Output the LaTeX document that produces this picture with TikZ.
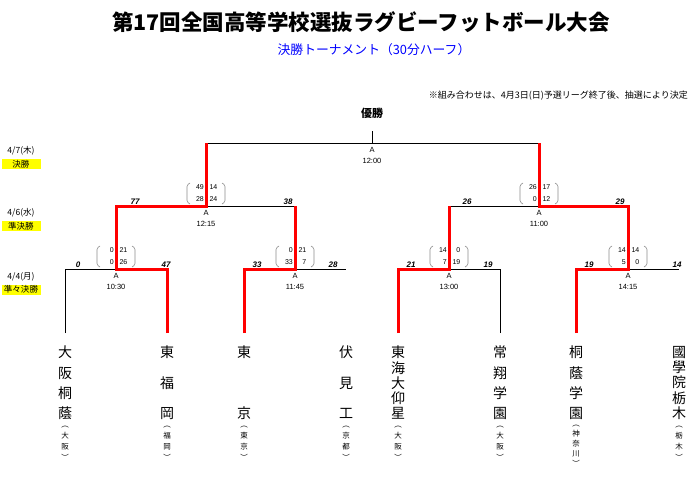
\documentclass[tikz,border=0pt]{standalone}
\usepackage{fontspec}
\setmainfont{Noto Sans CJK JP}
\newfontfamily\numfont{Liberation Sans}
\usetikzlibrary{positioning, calc}
\definecolor{brred}{HTML}{FF0000}
\definecolor{brblue}{HTML}{0000FF}
\definecolor{bryellow}{HTML}{FFFF00}
\definecolor{brgray}{HTML}{8C8C8C}

\begin{document}
\begin{tikzpicture}[x=1pt, y=-1pt,
  every node/.style={inner sep=0pt},
  lose/.style={black, line width=0.9pt},
  win/.style={brred, line width=3pt, line join=miter},
  team/.style={font={\fontsize{14}{#1}\selectfont}, align=center, anchor=north},
  pref/.style={font={\fontsize{7.5}{#1}\selectfont}, align=center, anchor=north},
  pts/.style={font={\numfont\bfseries\itshape\fontsize{8}{8}\selectfont}, anchor=base},
  halfsc/.style={font={\numfont\fontsize{7}{11.5}\selectfont}, align=right, anchor=north east},
  info/.style={font={\numfont\fontsize{7.5}{10.5}\selectfont}, align=center, anchor=north},
  paren/.style={brgray, line width=0.6pt, rounded corners=1.5pt},
  day/.style={font={\fontsize{8.5}{8.5}\selectfont}},
  stagebox/.style={fill=bryellow, minimum width=39pt, minimum height=10pt, font={\fontsize{8.5}{8.5}\selectfont}},
]
\useasboundingbox (0,0) rectangle (700,476);

% titles
\node (title) at (361,22) {\fontsize{21.5}{21.5}\selectfont\bfseries 第17回全国高等学校選抜ラグビーフットボール大会};
\node[text=brblue] (sub) at (374,50) {\fontsize{12.8}{12.8}\selectfont 決勝トーナメント（30分ハーフ）};
\node[anchor=east] (note) at (688,96) {\fontsize{9}{9}\selectfont ※組み合わせは、4月3日(日)予選リーグ終了後、抽選により決定};
\node (champ) at (372,113) {\fontsize{11}{11}\selectfont\bfseries 優勝};

% days
\node[day] (d1) at (21,151) {4/7(木)};
\node[stagebox, below=3pt of d1] (r1) {決勝};
\node[day] (d2) at (21,213) {4/6(水)};
\node[stagebox, below=3pt of d2] (r2) {準決勝};
\node[day] (d3) at (21,277) {4/4(月)};
\node[stagebox, below=3pt of d3] (r3) {準々決勝};

% bracket points
\coordinate (t1) at (65,333);
\coordinate (t2) at (167,333);
\coordinate (t3) at (244,333);
\coordinate (t4) at (346,333);
\coordinate (t5) at (398,333);
\coordinate (t6) at (500,333);
\coordinate (t7) at (576,333);
\coordinate (t8) at (679,333);
\coordinate (q1) at (116,269);
\coordinate (q2) at (295,269);
\coordinate (q3) at (449,269);
\coordinate (q4) at (628,269);
\coordinate (s1) at (206,206);
\coordinate (s2) at (539,206);
\coordinate (f) at (372,143);
\coordinate (top) at (372,131);

% lines
\draw[lose] (t1) |- (q1);
\draw[lose] (q2) -- (q2 -| t4);
\draw[lose] (t6) |- (q3);
\draw[lose] (q4) -- (q4 -| t8);
\draw[lose] (s1) -- (s1 -| q2);
\draw[lose] (s2 -| q3) -- (s2);
\draw[lose] (f -| s1) -- (f -| s2);
\draw[lose] (f) -- (top);
\draw[win] (t2) |- (q1) -- (q1 |- s1) -- (s1) -- (s1 |- f);
\draw[win] (t3) |- (q2) -- (q2 |- s1);
\draw[win] (t5) |- (q3) -- (q3 |- s2);
\draw[win] (t7) |- (q4) -- (q4 |- s2) -- (s2) -- (s2 |- f);

% brackets round the half scores
\foreach \m in {q1,q2,q3,q4,s1,s2}{
  \draw[paren] ($(\m)+(-16,-23)$) -- ++(-3,2) -- ++(0,17) -- ++(3,2);
  \draw[paren] ($(\m)+(16,-23)$) -- ++(3,2) -- ++(0,17) -- ++(-3,2);
}

% half scores
\node[halfsc] (q1a) at ($(q1)+(-2,-21.3)$) {0\\0};
\node[halfsc] (q1b) at ($(q1)+(11.5,-21.3)$) {21\\26};
\node[halfsc] (q2a) at ($(q2)+(-2,-21.3)$) {0\\33};
\node[halfsc] (q2b) at ($(q2)+(11.5,-21.3)$) {21\\7};
\node[halfsc] (q3a) at ($(q3)+(-2,-21.3)$) {14\\7};
\node[halfsc] (q3b) at ($(q3)+(11.5,-21.3)$) {0\\19};
\node[halfsc] (q4a) at ($(q4)+(-2,-21.3)$) {14\\5};
\node[halfsc] (q4b) at ($(q4)+(11.5,-21.3)$) {14\\0};
\node[halfsc] (s1a) at ($(s1)+(-2,-21.3)$) {49\\28};
\node[halfsc] (s1b) at ($(s1)+(11.5,-21.3)$) {14\\24};
\node[halfsc] (s2a) at ($(s2)+(-2,-21.3)$) {26\\0};
\node[halfsc] (s2b) at ($(s2)+(11.5,-21.3)$) {17\\12};

% totals
\node[pts] (q1l) at (78,267.5) {0};
\node[pts] (q1r) at (166,267.5) {47};
\node[pts] (q2l) at (257,267.5) {33};
\node[pts] (q2r) at (333,267.5) {28};
\node[pts] (q3l) at (411,267.5) {21};
\node[pts] (q3r) at (488,267.5) {19};
\node[pts] (q4l) at (589,267.5) {19};
\node[pts] (q4r) at (677,267.5) {14};
\node[pts] (s1l) at (135,204.5) {77};
\node[pts] (s1r) at (288,204.5) {38};
\node[pts] (s2l) at (467,204.5) {26};
\node[pts] (s2r) at (620,204.5) {29};

% ground and kick-off
\node[info] (q1i) at ($(q1)+(0,4.4)$) {A\\10:30};
\node[info] (q2i) at ($(q2)+(0,4.4)$) {A\\11:45};
\node[info] (q3i) at ($(q3)+(0,4.4)$) {A\\13:00};
\node[info] (q4i) at ($(q4)+(0,4.4)$) {A\\14:15};
\node[info] (s1i) at ($(s1)+(0,4.4)$) {A\\12:15};
\node[info] (s2i) at ($(s2)+(0,4.4)$) {A\\11:00};
\node[info] (fi) at ($(f)+(0,4.4)$) {A\\12:00};

% teams
\node[team=20.3] (n1) at (65,346) {大\\阪\\桐\\蔭};
\node[team=30.5] (n2) at (167,346) {東\\福\\岡};
\node[team=61] (n3) at (244,346) {東\\京};
\node[team=30.5] (n4) at (346,346) {伏\\見\\工};
\node[team=15.25] (n5) at (398,346) {東\\海\\大\\仰\\星};
\node[team=20.3] (n6) at (500,346) {常\\翔\\学\\園};
\node[team=20.3] (n7) at (576,346) {桐\\蔭\\学\\園};
\node[team=15.25] (n8) at (679,346) {國\\學\\院\\栃\\木};
\node[pref=11] (p1) at (65,426) {︵\\大\\阪\\︶};
\node[pref=11] (p2) at (167,426) {︵\\福\\岡\\︶};
\node[pref=11] (p3) at (244,426) {︵\\東\\京\\︶};
\node[pref=11] (p4) at (346,426) {︵\\京\\都\\︶};
\node[pref=11] (p5) at (398,426) {︵\\大\\阪\\︶};
\node[pref=11] (p6) at (500,426) {︵\\大\\阪\\︶};
\node[pref=10] (p7) at (576,425) {︵\\神\\奈\\川\\︶};
\node[pref=11] (p8) at (679,426) {︵\\栃\\木\\︶};
\end{tikzpicture}
\end{document}
